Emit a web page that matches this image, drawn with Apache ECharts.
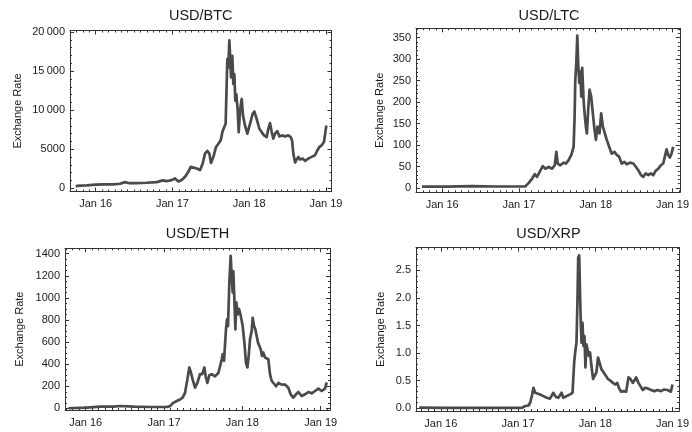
<!DOCTYPE html>
<html>
<head>
<meta charset="utf-8">
<script src="https://cdn.jsdelivr.net/npm/echarts@6/dist/echarts.min.js"></script>
<style>
  html, body { margin: 0; padding: 0; background: #fff; }
  #chart { width: 692px; height: 432px; }
</style>
</head>
<body>
<div id="chart"></div>
<script>
// Dates are decimal years; rates are USD per coin.
const btcTime = [
  2015.739, 2015.796, 2015.883, 2016.000, 2016.100, 2016.230, 2016.317, 2016.382, 2016.426, 2016.534,
  2016.664, 2016.795, 2016.873, 2016.925, 2016.990, 2017.033, 2017.077, 2017.120, 2017.164, 2017.207,
  2017.238, 2017.264, 2017.316, 2017.359, 2017.394, 2017.424, 2017.455, 2017.481, 2017.502, 2017.533,
  2017.568, 2017.598, 2017.628, 2017.654, 2017.676, 2017.693, 2017.706, 2017.715, 2017.728, 2017.741,
  2017.750, 2017.763, 2017.780, 2017.793, 2017.806, 2017.819, 2017.832, 2017.850, 2017.863, 2017.880,
  2017.902, 2017.919, 2017.945, 2017.976, 2018.010, 2018.045, 2018.067, 2018.097, 2018.132, 2018.162,
  2018.193, 2018.228, 2018.249, 2018.271, 2018.293, 2018.314, 2018.336, 2018.366, 2018.393, 2018.423,
  2018.466, 2018.510, 2018.540, 2018.558, 2018.575, 2018.597, 2018.618, 2018.640, 2018.662, 2018.696,
  2018.727, 2018.770, 2018.814, 2018.857, 2018.888, 2018.914, 2018.944, 2018.974, 2018.992, 2019.005
];
const btcRate = [
  300, 340, 380, 470, 510, 510, 590, 800, 680, 680,
  720, 800, 1020, 930, 1060, 1270, 890, 1060, 1480, 2120,
  2750, 2540, 2540, 2330, 3180, 4450, 4790, 4450, 3260, 4030,
  5300, 5720, 6140, 7330, 7080, 8260, 13350, 16530, 15470, 18940,
  17160, 14200, 16950, 13350, 14620, 11230, 12080, 9960, 7200, 9960,
  11440, 9320, 8050, 6990, 8260, 9530, 9830, 8900, 7630, 7200,
  6780, 6570, 7630, 8350, 7200, 6360, 6990, 7330, 6650, 6780,
  6650, 6780, 6570, 6140, 4450, 3310, 3690, 4030, 3690, 3810,
  3520, 3810, 4030, 4240, 4870, 5300, 5510, 5930, 7200, 8050
];

const ltcTime = [
  2015.736, 2016.048, 2016.393, 2016.696, 2016.999, 2017.085, 2017.128, 2017.172, 2017.206, 2017.236,
  2017.280, 2017.310, 2017.345, 2017.388, 2017.431, 2017.466, 2017.487, 2017.505, 2017.539, 2017.582,
  2017.613, 2017.647, 2017.682, 2017.712, 2017.725, 2017.734, 2017.747, 2017.760, 2017.773, 2017.786,
  2017.799, 2017.812, 2017.824, 2017.842, 2017.855, 2017.872, 2017.885, 2017.902, 2017.920, 2017.941,
  2017.958, 2017.980, 2018.002, 2018.023, 2018.049, 2018.071, 2018.093, 2018.114, 2018.144, 2018.175,
  2018.209, 2018.244, 2018.274, 2018.304, 2018.339, 2018.374, 2018.404, 2018.447, 2018.490, 2018.525,
  2018.556, 2018.590, 2018.620, 2018.650, 2018.685, 2018.719, 2018.750, 2018.780, 2018.815, 2018.849,
  2018.879, 2018.901, 2018.923, 2018.944, 2018.966, 2018.987, 2019.009
];
const ltcRate = [
  3, 3, 4.5, 3.5, 3.5, 4, 12, 22, 32, 26,
  41, 51, 45, 49, 45, 53, 84, 57, 53, 59,
  57, 65, 77, 96, 166, 252, 291, 355, 284, 245,
  272, 213, 280, 205, 174, 143, 127, 182, 229, 213,
  182, 143, 112, 143, 127, 174, 143, 139, 112, 96,
  80, 84, 77, 73, 57, 61, 55, 59, 57, 49,
  41, 30, 26, 34, 30, 34, 30, 40, 45, 53,
  57, 61, 90, 77, 71, 80, 96
];

const ethTime = [
  2015.779, 2016.013, 2016.183, 2016.353, 2016.438, 2016.609, 2016.821, 2017.034, 2017.077, 2017.119,
  2017.162, 2017.204, 2017.238, 2017.268, 2017.298, 2017.323, 2017.345, 2017.366, 2017.396, 2017.426,
  2017.460, 2017.489, 2017.515, 2017.532, 2017.553, 2017.579, 2017.609, 2017.651, 2017.694, 2017.715,
  2017.736, 2017.749, 2017.766, 2017.791, 2017.804, 2017.817, 2017.834, 2017.851, 2017.864, 2017.877,
  2017.885, 2017.898, 2017.911, 2017.923, 2017.940, 2017.957, 2017.979, 2018.004, 2018.026, 2018.047,
  2018.064, 2018.081, 2018.098, 2018.119, 2018.132, 2018.149, 2018.166, 2018.183, 2018.200, 2018.217,
  2018.234, 2018.251, 2018.268, 2018.289, 2018.311, 2018.332, 2018.353, 2018.374, 2018.396, 2018.430,
  2018.460, 2018.502, 2018.545, 2018.587, 2018.617, 2018.651, 2018.685, 2018.715, 2018.757, 2018.800,
  2018.843, 2018.885, 2018.928, 2018.970, 2019.013, 2019.055, 2019.077
];
const ethRate = [
  1, 6, 15, 15, 21, 15, 12, 12, 20, 50,
  66, 80, 97, 140, 260, 370, 320, 260, 187, 230,
  310, 310, 370, 290, 230, 300, 310, 290, 320, 320,
  440, 490, 430, 715, 805, 745, 1140, 1380, 1200, 1050,
  1240, 990, 715, 960, 850, 900, 840, 745, 595, 410,
  370, 475, 625, 700, 820, 745, 715, 655, 595, 610,
  535, 475, 505, 460, 475, 445, 310, 250, 260, 200,
  230, 215, 215, 187, 127, 97, 127, 148, 112, 127,
  148, 136, 157, 178, 157, 178, 235
];

const xrpTime = [
  2015.721, 2016.064, 2016.493, 2016.922, 2017.050, 2017.093, 2017.136, 2017.157, 2017.179, 2017.200,
  2017.222, 2017.243, 2017.286, 2017.329, 2017.372, 2017.414, 2017.457, 2017.487, 2017.522, 2017.564,
  2017.586, 2017.629, 2017.672, 2017.706, 2017.727, 2017.745, 2017.757, 2017.770, 2017.779, 2017.792,
  2017.805, 2017.813, 2017.822, 2017.835, 2017.847, 2017.860, 2017.873, 2017.886, 2017.899, 2017.916,
  2017.933, 2017.950, 2017.972, 2017.993, 2018.015, 2018.036, 2018.057, 2018.079, 2018.100, 2018.122,
  2018.143, 2018.165, 2018.195, 2018.229, 2018.259, 2018.285, 2018.306, 2018.336, 2018.370, 2018.400,
  2018.430, 2018.456, 2018.486, 2018.507, 2018.529, 2018.559, 2018.585, 2018.615, 2018.645, 2018.679,
  2018.722, 2018.765, 2018.808, 2018.850, 2018.893, 2018.936, 2018.979, 2019.000
];
const xrpRate = [
  0.012, 0.008, 0.008, 0.007, 0.007, 0.04, 0.05, 0.1, 0.22, 0.37,
  0.28, 0.3, 0.25, 0.22, 0.19, 0.175, 0.28, 0.21, 0.19, 0.28,
  0.19, 0.22, 0.25, 0.28, 0.83, 1.07, 1.19, 1.97, 2.73, 2.77,
  1.97, 1.55, 1.19, 1.55, 1.13, 1.31, 0.74, 1.16, 1.07, 0.95,
  1.01, 0.77, 0.53, 0.5, 0.65, 0.92, 0.89, 0.71, 0.68, 0.62,
  0.6, 0.53, 0.5, 0.46, 0.43, 0.46, 0.37, 0.3, 0.31, 0.3,
  0.56, 0.53, 0.46, 0.5, 0.56, 0.46, 0.4, 0.33, 0.37, 0.36,
  0.33, 0.31, 0.33, 0.31, 0.34, 0.33, 0.3, 0.43
];

// Tick values
const yearTicks = [2016, 2017, 2018, 2019];
const btcTicks = [0, 5000, 10000, 15000, 20000];
const ltcTicks = [0, 50, 100, 150, 200, 250, 300, 350];
const ethTicks = [0, 200, 400, 600, 800, 1000, 1200, 1400];
const xrpTicks = [0, 0.5, 1.0, 1.5, 2.0, 2.5];

const FONT = '"Liberation Sans", Arial, Helvetica, sans-serif';
const FRAME = '#333';
const INK = '#1a1a1a';
const LINE = '#4a4a4a';

function thousands(v) {
  const s = String(v);
  return s.length > 4 ? s.slice(0, -3) + '\u2009' + s.slice(-3) : s;
}
function stepValues(lo, hi, step) {
  const out = [];
  const start = Math.ceil(lo / step - 1e-9);
  for (let k = start; k * step <= hi + 1e-9; k++) out.push(+(k * step).toFixed(6));
  return out;
}
function monthValues(lo, hi) {
  const out = [];
  for (let k = Math.ceil(lo * 12); k / 12 <= hi; k++) out.push(k / 12);
  return out;
}

const panels = [
  { title: 'USD/BTC', time: btcTime, rate: btcRate,
    grid: { left: 70, top: 30.5, width: 261.5, height: 161 },
    x: [2015.665, 2019.072], y: [-400, 20200],
    ticks: btcTicks, minor: 1000, fmt: thousands, nameGap: 47, titleY: 16 },
  { title: 'USD/LTC', time: ltcTime, rate: ltcRate,
    grid: { left: 416, top: 28.3, width: 266, height: 164 },
    x: [2015.659, 2019.095], y: [-10, 372],
    ticks: ltcTicks, minor: 10, fmt: String, nameGap: 31, titleY: 16 },
  { title: 'USD/ETH', time: ethTime, rate: ethRate,
    grid: { left: 65, top: 248.3, width: 265, height: 161.7 },
    x: [2015.736, 2019.119], y: [-15, 1449],
    ticks: ethTicks, minor: 50, fmt: String, nameGap: 39.5, titleY: 233.5 },
  { title: 'USD/XRP', time: xrpTime, rate: xrpRate,
    grid: { left: 416, top: 247.7, width: 265, height: 163.3 },
    x: [2015.679, 2019.086], y: [-0.05, 2.91],
    ticks: xrpTicks, minor: 0.1, fmt: v => Number(v).toFixed(1), nameGap: 29.5, titleY: 234 }
];

const grids = [], xAxes = [], yAxes = [], series = [], graphics = [];

panels.forEach((p, i) => {
  grids.push(Object.assign({ containLabel: false }, p.grid));

  const months = monthValues(p.x[0], p.x[1]);
  const minorY = stepValues(p.y[0], p.y[1], p.minor);
  const lineOn = { show: true, onZero: false, lineStyle: { color: FRAME, width: 1 } };
  const lineOff = { show: false, onZero: false };
  const tick = (vals, len) => ({ show: true, inside: true, length: len, customValues: vals,
    lineStyle: { color: FRAME, width: 1 } });
  const baseX = { type: 'value', gridIndex: i, min: p.x[0], max: p.x[1], splitLine: { show: false } };
  const baseY = { type: 'value', gridIndex: i, min: p.y[0], max: p.y[1], splitLine: { show: false } };

  // bottom edge: year labels + ticks, then monthly ticks
  xAxes.push(Object.assign({}, baseX, {
    position: 'bottom', axisLine: lineOn, axisTick: tick(yearTicks, 4),
    axisLabel: { show: true, customValues: yearTicks, margin: 7, fontSize: 11, fontFamily: FONT, color: INK,
      formatter: v => 'Jan ' + String(Math.round(v)).slice(2) }
  }));
  xAxes.push(Object.assign({}, baseX, {
    position: 'bottom', axisLine: lineOff, axisTick: tick(months, 2), axisLabel: { show: false }
  }));
  // top edge mirrors the ticks without labels
  xAxes.push(Object.assign({}, baseX, {
    position: 'top', axisLine: lineOn, axisTick: tick(yearTicks, 4), axisLabel: { show: false }
  }));
  xAxes.push(Object.assign({}, baseX, {
    position: 'top', axisLine: lineOff, axisTick: tick(months, 2), axisLabel: { show: false }
  }));

  // left edge: value labels, axis title and ticks
  yAxes.push(Object.assign({}, baseY, {
    position: 'left', axisLine: lineOn, axisTick: tick(p.ticks, 4),
    axisLabel: { show: true, customValues: p.ticks, margin: 5, fontSize: 11, fontFamily: FONT, color: INK,
      formatter: p.fmt },
    name: 'Exchange Rate', nameLocation: 'middle', nameRotate: 90, nameGap: p.nameGap,
    nameTextStyle: { fontSize: 11, fontFamily: FONT, color: INK }
  }));
  yAxes.push(Object.assign({}, baseY, {
    position: 'left', axisLine: lineOff, axisTick: tick(minorY, 2), axisLabel: { show: false }
  }));
  // right edge mirrors the ticks
  yAxes.push(Object.assign({}, baseY, {
    position: 'right', axisLine: lineOn, axisTick: tick(p.ticks, 4), axisLabel: { show: false }
  }));
  yAxes.push(Object.assign({}, baseY, {
    position: 'right', axisLine: lineOff, axisTick: tick(minorY, 2), axisLabel: { show: false }
  }));

  series.push({
    type: 'line', name: p.title, xAxisIndex: i * 4, yAxisIndex: i * 4,
    data: p.time.map((t, k) => [t, p.rate[k]]),
    showSymbol: false, symbol: 'none', clip: true,
    lineStyle: { color: LINE, width: 2.7, join: 'round' },
    emphasis: { disabled: true }
  });

  graphics.push({
    type: 'text', x: p.grid.left + p.grid.width / 2, y: p.titleY,
    style: { text: p.title, fontSize: 14.5, fontFamily: FONT, fill: INK,
      align: 'center', verticalAlign: 'middle' }
  });
});

const chart = echarts.init(document.getElementById('chart'), null, { renderer: 'canvas' });
chart.setOption({
  animation: false,
  backgroundColor: '#fff',
  grid: grids,
  xAxis: xAxes,
  yAxis: yAxes,
  series: series,
  graphic: graphics
});
</script>
</body>
</html>
